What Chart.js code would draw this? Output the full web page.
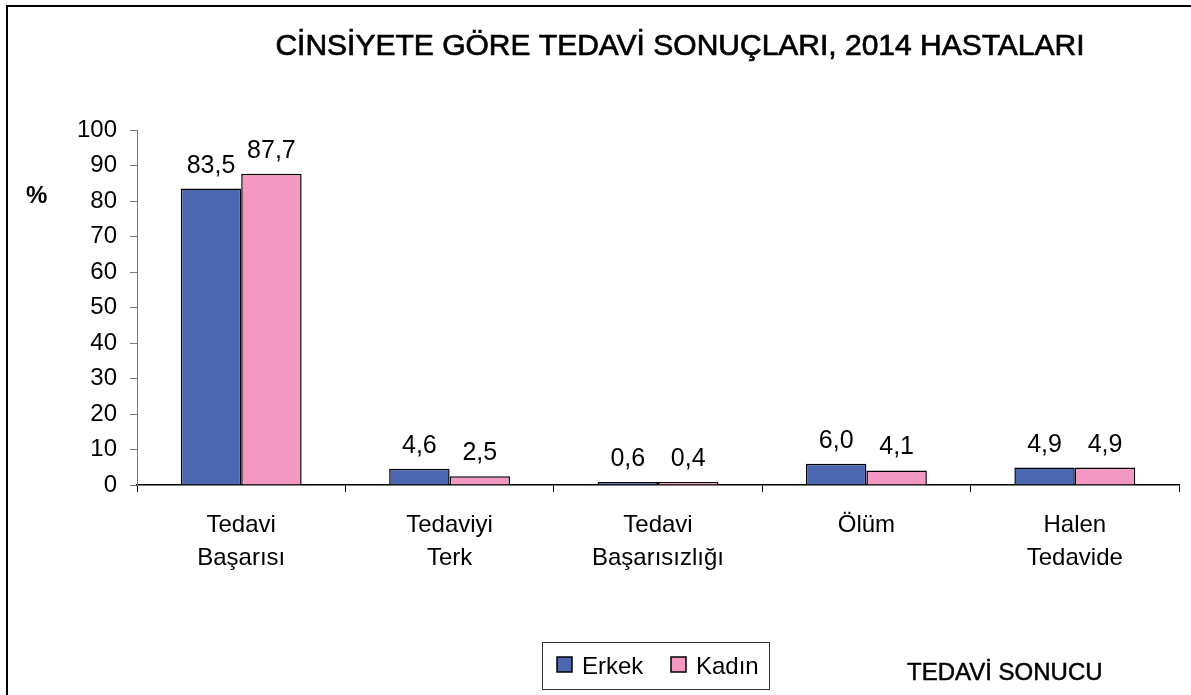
<!DOCTYPE html>
<html>
<head>
<meta charset="utf-8">
<script src="https://cdn.jsdelivr.net/npm/chart.js@4.4.1/dist/chart.umd.min.js"></script>
<style>
html,body{margin:0;padding:0;background:#fff;}
#wrap{width:1191px;height:695px;position:relative;}
</style>
</head>
<body>
<div id="wrap"><canvas id="c" width="1191" height="695"></canvas></div>
<script>
const categories = [["Tedavi","Başarısı"],["Tedaviyi","Terk"],["Tedavi","Başarısızlığı"],["Ölüm"],["Halen","Tedavide"]];
const erkek = [83.5, 4.6, 0.6, 6.0, 4.9];
const kadin = [87.7, 2.5, 0.4, 4.1, 4.9];
const seriesNames = ["Erkek","Kadın"];
const titleText = "CİNSİYETE GÖRE TEDAVİ SONUÇLARI, 2014 HASTALARI";
const yAxisLabel = "%";
const xAxisLabel = "TEDAVİ SONUCU";
const yTicks = [0,10,20,30,40,50,60,70,80,90,100];

const FONT = "'Liberation Sans', Arial, sans-serif";
const BLUE = "#4a67af";
const PINK = "#f298c2";

const decor = {
  id: 'decor',
  afterDatasetsDraw(chart) {
    const ctx = chart.ctx;
    ctx.save();
    ctx.fillStyle = '#000';
    ctx.font = "25px " + FONT;
    ctx.textAlign = 'center';
    ctx.textBaseline = 'alphabetic';
    chart.data.datasets.forEach((ds, di) => {
      const meta = chart.getDatasetMeta(di);
      meta.data.forEach((bar, i) => {
        const v = ds.data[i];
        ctx.fillText(v.toFixed(1).replace('.', ','), bar.x, bar.y - 16);
      });
    });
    ctx.restore();
  },
  afterDraw(chart) {
    const ctx = chart.ctx;
    ctx.save();
    ctx.strokeStyle = '#000';
    ctx.lineWidth = 2;
    ctx.beginPath();
    ctx.moveTo(7, 695); ctx.lineTo(7, 6); ctx.lineTo(1191, 6);
    ctx.stroke();
    // title
    ctx.fillStyle = '#000';
    ctx.strokeStyle = '#000';
    ctx.font = "30px " + FONT;
    ctx.textAlign = 'center';
    ctx.textBaseline = 'alphabetic';
    ctx.lineWidth = 0.7;
    ctx.fillText(titleText, 680, 55);
    ctx.strokeText(titleText, 680, 55);
    // y axis label
    ctx.font = "bold 24px " + FONT;
    ctx.textAlign = 'left';
    ctx.fillText(yAxisLabel, 26, 203);
    // x axis label
    ctx.font = "24px " + FONT;
    ctx.lineWidth = 0.5;
    ctx.fillText(xAxisLabel, 907, 680);
    ctx.strokeText(xAxisLabel, 907, 680);
    // legend
    ctx.strokeStyle = '#333';
    ctx.lineWidth = 1;
    ctx.strokeRect(542.5, 642.5, 227, 47);
    const items = [[557, 582], [671, 696]];
    chart.data.datasets.forEach((ds, i) => {
      const it = items[i];
      ctx.fillStyle = ds.backgroundColor;
      ctx.fillRect(it[0], 657, 15, 15);
      ctx.strokeStyle = '#000';
      ctx.lineWidth = 1.5;
      ctx.strokeRect(it[0], 657, 15, 15);
      ctx.fillStyle = '#000';
      ctx.font = "24px " + FONT;
      ctx.fillText(ds.label, it[1], 674);
    });
    ctx.restore();
  }
};

new Chart(document.getElementById('c'), {
  type: 'bar',
  data: {
    labels: categories,
    datasets: [
      { label: seriesNames[0], data: erkek, backgroundColor: BLUE, borderColor: '#000', borderWidth: 1.5, minBarLength: 3 },
      { label: seriesNames[1], data: kadin, backgroundColor: PINK, borderColor: '#000', borderWidth: 1.5, minBarLength: 3 }
    ]
  },
  options: {
    responsive: false,
    animation: false,
    devicePixelRatio: 1,
    layout: { padding: { left: 0, right: 12, top: 130, bottom: 0 } },
    plugins: { legend: { display: false }, title: { display: false }, tooltip: { enabled: false } },
    datasets: { bar: { categoryPercentage: 0.58, barPercentage: 1.0 } },
    scales: {
      x: {
        grid: { drawOnChartArea: false, offset: true, tickLength: 7, color: '#000', lineWidth: 1 },
        border: { color: '#000', width: 1.5 },
        ticks: { color: '#000', font: { family: FONT, size: 24, lineHeight: 1.375 }, padding: 17, maxRotation: 0, autoSkip: false },
        afterFit(s) { s.height = 210; }
      },
      y: {
        min: 0, max: 100,
        afterBuildTicks(s) { s.ticks = yTicks.map(v => ({ value: v })); },
        grid: { drawOnChartArea: false, tickLength: 7, color: '#777', lineWidth: 1 },
        border: { color: '#777', width: 1 },
        ticks: { color: '#000', font: { family: FONT, size: 24 }, padding: 13 },
        afterFit(s) { s.width = 137; }
      }
    }
  },
  plugins: [decor]
});
</script>
</body>
</html>
